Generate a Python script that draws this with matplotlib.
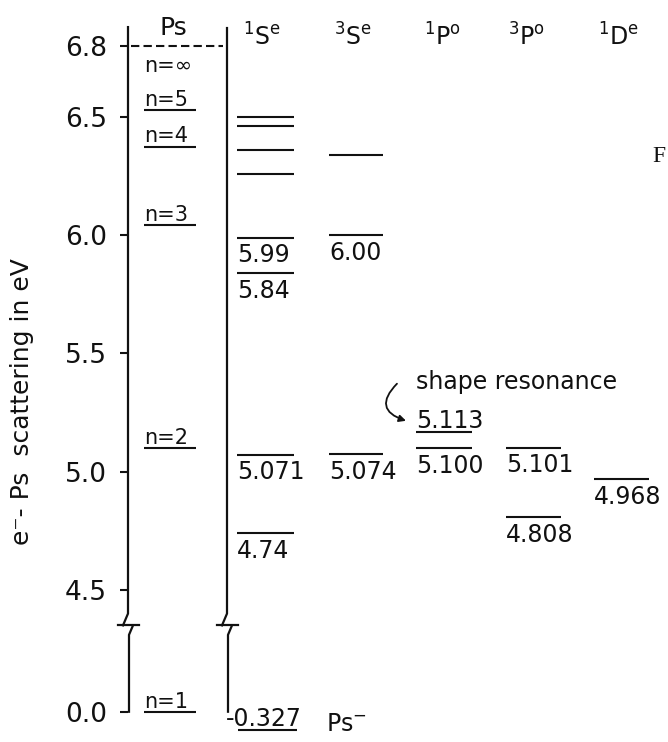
import numpy as np
import matplotlib
matplotlib.use("Agg")
import matplotlib.pyplot as plt
from matplotlib import transforms

plt.rcParams["font.family"] = ["DejaVu Sans"]
plt.rcParams["mathtext.fontset"] = "dejavusans"
plt.rcParams["mathtext.default"] = "regular"

ink = "#111111"

# Data (energies in eV)
headers = ["Ps", r"$^{1}S^{e}$", r"$^{3}S^{e}$", r"$^{1}P^{o}$", r"$^{3}P^{o}$", r"$^{1}D^{e}$"]

ps_energy = [6.8, 6.528, 6.375, 6.044, 5.1, 0.0]
ps_label = ["n=∞", "n=5", "n=4", "n=3", "n=2", "n=1"]

se1_unlabeled = [6.50, 6.46, 6.36, 6.26]
se3_unlabeled = [6.34]

res_column = [1, 1, 1, 1, 1, 2, 2, 3, 3, 4, 4, 5]
res_energy = [5.99, 5.84, 5.071, 4.74, -0.327, 6.00, 5.074, 5.113, 5.100, 5.101, 4.808, 4.968]
res_label = ["5.99", "5.84", "5.071", "4.74", "-0.327", "6.00", "5.074",
             "5.113", "5.100", "5.101", "4.808", "4.968"]

yticks = [0.0, 4.5, 5.0, 5.5, 6.0, 6.5, 6.8]

# layout (pixel-like x units)
col_left = [144, 237, 329, 416, 506, 594]
col_width = [52, 57, 54, 56, 55, 55]
col_center = [173, 262, 353, 443, 527, 619]

fig = plt.figure(figsize=(6.68, 7.42), dpi=100)
ax = fig.add_axes([128 / 668, 0, 540 / 668, 1])
ax.set_xlim(128, 668)

# broken energy axis: lower part (around 0) squeezed under the 4.5 tick
xp = [-10.0, 0.2, 4.3, 20.0]
fp = [3.985 - 10 * 0.235, 3.985 + 0.2 * 0.235, 4.3, 20.0]
ax.set_yscale("function", functions=(lambda e: np.interp(e, xp, fp),
                                     lambda d: np.interp(d, fp, xp)))
ax.set_ylim(-0.545, 6.9945)

for s in ax.spines.values():
    s.set_visible(False)
ax.set_xticks([])
ax.set_yticks(yticks)
ax.set_yticklabels([f"{v:.1f}" for v in yticks], fontsize=19, color=ink)
ax.tick_params(axis="y", length=6, width=1.5, pad=9, color=ink)


def lifted(pts):
    return ax.transData + transforms.ScaledTranslation(0, pts / 72, fig.dpi_scale_trans)


def level(x0, w, e, label=None, where="below", lift=0, dx=0, size=17, dy=None):
    tr = lifted(lift)
    ax.plot([x0, x0 + w], [e, e], color=ink, lw=1.5, transform=tr,
            solid_capstyle="butt", clip_on=False)
    if label is None:
        return
    if where == "below":
        ax.annotate(label, xy=(x0, e), xycoords=tr,
                    xytext=(dx, -4 if dy is None else dy), textcoords="offset points",
                    ha="left", va="top", fontsize=size, color=ink)
    else:
        ax.annotate(label, xy=(x0, e), xycoords=tr,
                    xytext=(dx, 3 if dy is None else dy), textcoords="offset points",
                    ha="left", va="baseline", fontsize=size, color=ink)


def broken_vline(x, top, bottom):
    ax.plot([x, x, x - 5], [top, 4.40, 4.35], color=ink, lw=1.6, clip_on=False)
    ax.plot([x - 10, x + 11], [4.35, 4.35], color=ink, lw=1.6, clip_on=False)
    ax.plot([x + 5, x + 1, x + 1], [4.35, 4.31, bottom], color=ink, lw=1.6, clip_on=False)


broken_vline(128, 6.88, 0.0)
broken_vline(227, 6.876, 0.0)

# Ps thresholds
ax.plot([131, 223], [ps_energy[0], ps_energy[0]], color=ink, lw=1.5,
        linestyle=(0, (4, 2)))
ax.annotate(ps_label[0], xy=(col_left[0], ps_energy[0]), xytext=(0, -7),
            textcoords="offset points", ha="left", va="top", fontsize=15, color=ink)
for e, lab in zip(ps_energy[1:], ps_label[1:]):
    level(col_left[0], col_width[0], e, lab, where="above", size=15)

# unlabeled resonances
for e in se1_unlabeled:
    level(col_left[1], col_width[1], e)
for e in se3_unlabeled:
    level(col_left[2], col_width[2], e)

# labeled resonances
for c, e, lab in zip(res_column, res_energy, res_label):
    if lab == "-0.327":
        level(col_left[c] + 1, col_width[c] + 2, e, lab, where="above", dx=-9)
    elif lab == "5.113":
        level(col_left[c], col_width[c], e, lab, where="above", lift=9.5)
    else:
        level(col_left[c], col_width[c], e, lab, where="below")

# Ps- next to the bound state
ax.annotate("Ps$^{-}$", xy=(col_left[1] + col_width[1], res_energy[4]), xytext=(23, -1),
            textcoords="offset points", ha="left", va="baseline", fontsize=17, color=ink)

# shape resonance note with curved arrow
i = res_label.index("5.113")
anchor = lifted(9.5)
ax.annotate("shape resonance", xy=(col_left[3], res_energy[i]), xycoords=anchor,
            xytext=(0, 36), textcoords="offset points", ha="left", va="center",
            fontsize=17, color=ink)
head = anchor + transforms.ScaledTranslation(-7.2 / 72, 7.9 / 72, fig.dpi_scale_trans)
ax.annotate("", xy=(col_left[3], res_energy[i]), xycoords=head,
            xytext=(-6.5, 26.7), textcoords="offset points",
            arrowprops=dict(arrowstyle="-|>", connectionstyle="arc3,rad=0.8",
                            lw=1.3, color=ink, mutation_scale=10,
                            shrinkA=0, shrinkB=0))

# column headers
hdr_tr = ax.get_xaxis_transform()
ax.text(col_center[0], 1 - 35 / 742, headers[0], transform=hdr_tr,
        ha="center", va="baseline", fontsize=18, color=ink)
for xc, h in zip(col_center[1:], headers[1:]):
    ax.text(xc, 1 - 46 / 742, h, transform=hdr_tr, ha="center", va="baseline",
            fontsize=17, color=ink)

fig.text(22 / 668, 1 - 402 / 742, "e⁻- Ps  scattering in eV", rotation=90,
         ha="center", va="center", fontsize=18, color=ink)
fig.text(652 / 668, 1 - 157 / 742, "F", ha="left", va="center", fontsize=17,
         family="Liberation Serif", color=ink)

fig.savefig("out.png", dpi=100, facecolor="white")
